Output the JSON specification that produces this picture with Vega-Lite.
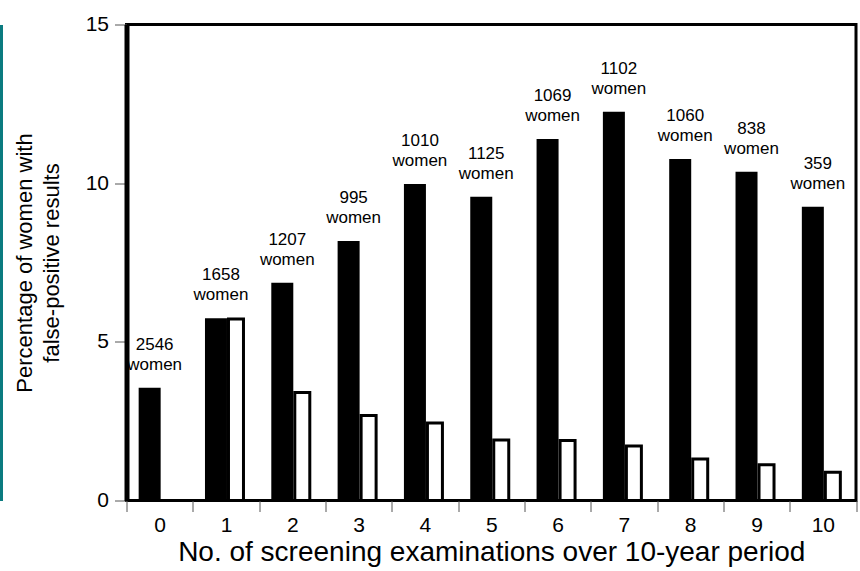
{
  "$schema": "https://vega.github.io/schema/vega-lite/v6.json",
  "autosize": "none",
  "width": 729.5,
  "height": 476,
  "padding": {"left": 126.5, "top": 24.5, "right": 4, "bottom": 70.5},
  "background": "white",
  "config": {
    "font": "Liberation Sans",
    "view": {"stroke": "black", "strokeWidth": 3},
    "axis": {"labelColor": "black", "titleColor": "black", "titleFontWeight": "normal", "grid": false, "labelFont": "Liberation Sans", "titleFont": "Liberation Sans"}
  },
  "data": {
    "values": [
      {"n": 0, "all": 3.55, "first": null, "label": "2546\nwomen"},
      {"n": 1, "all": 5.74, "first": 5.72, "label": "1658\nwomen"},
      {"n": 2, "all": 6.86, "first": 3.40, "label": "1207\nwomen"},
      {"n": 3, "all": 8.18, "first": 2.68, "label": "995\nwomen"},
      {"n": 4, "all": 9.97, "first": 2.44, "label": "1010\nwomen"},
      {"n": 5, "all": 9.57, "first": 1.91, "label": "1125\nwomen"},
      {"n": 6, "all": 11.39, "first": 1.89, "label": "1069\nwomen"},
      {"n": 7, "all": 12.25, "first": 1.72, "label": "1102\nwomen"},
      {"n": 8, "all": 10.76, "first": 1.31, "label": "1060\nwomen"},
      {"n": 9, "all": 10.36, "first": 1.13, "label": "838\nwomen"},
      {"n": 10, "all": 9.26, "first": 0.89, "label": "359\nwomen"}
    ]
  },
  "encoding": {
    "x": {
      "field": "n",
      "type": "ordinal",
      "scale": {"paddingInner": 0, "paddingOuter": 0},
      "axis": {
        "title": "No. of screening examinations over 10-year period",
        "titleFontSize": 28,
        "titlePadding": 3,
        "labelFontSize": 21,
        "labelAngle": 0,
        "labelPadding": 3,
        "tickBand": "extent",
        "tickSize": 11,
        "tickWidth": 1,
        "tickColor": "#555555",
        "domain": false
      }
    }
  },
  "layer": [
    {
      "mark": {"type": "bar", "color": "black", "width": 22, "xOffset": -10},
      "encoding": {
        "y": {
          "field": "all",
          "type": "quantitative",
          "scale": {"domain": [0, 15], "nice": false},
          "axis": {
            "orient": "left",
            "values": [0, 5, 10, 15],
            "title": ["Percentage of women with", "false-positive results"],
            "titleFontSize": 22,
            "titleLineHeight": 27,
            "titlePadding": 22,
            "labelFontSize": 21,
            "labelPadding": 6,
            "tickSize": 12,
            "tickWidth": 1,
            "tickColor": "#555555",
            "domain": true,
            "domainColor": "black",
            "domainWidth": 5
          }
        }
      }
    },
    {
      "mark": {"type": "bar", "fill": "white", "stroke": "black", "strokeWidth": 3, "width": 15, "xOffset": 10},
      "encoding": {
        "y": {
          "field": "first",
          "type": "quantitative",
          "axis": {
            "orient": "left",
            "offset": 125.5,
            "labels": false,
            "ticks": false,
            "title": null,
            "domain": true,
            "domainColor": "#0b7b80",
            "domainWidth": 3
          }
        }
      }
    },
    {
      "mark": {"type": "text", "lineBreak": "\n", "baseline": "alphabetic", "align": "center", "dy": -38, "dx": -5, "fontSize": 17, "lineHeight": 20, "color": "black"},
      "encoding": {
        "y": {"field": "all", "type": "quantitative", "axis": null},
        "text": {"field": "label"}
      }
    }
  ],
  "resolve": {"axis": {"y": "independent"}}
}
